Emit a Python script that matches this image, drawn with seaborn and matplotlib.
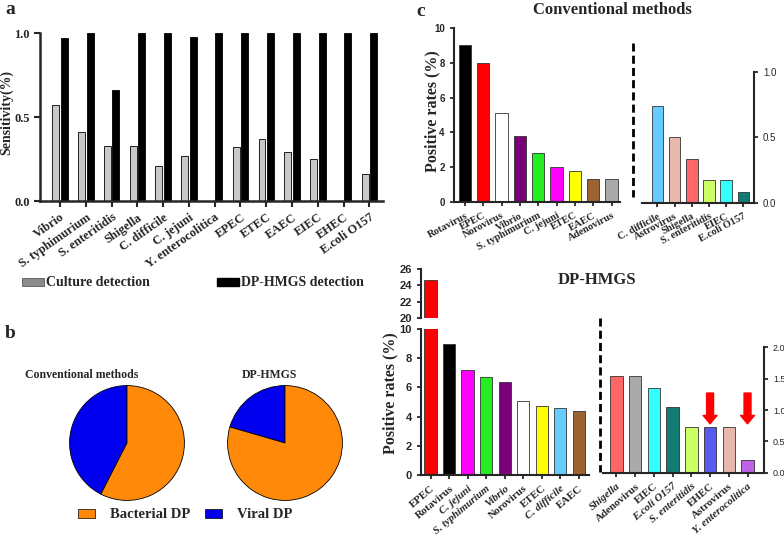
import pandas as pd
import seaborn as sns
import matplotlib.pyplot as plt
from matplotlib.patches import Patch
from matplotlib.lines import Line2D

# (a) sensitivity of culture vs DP-HMGS
pathogens_a = ["Vibrio", "S. typhimurium", "S. enteritidis", "Shigella", "C. difficile",
               "C. jejuni", "Y. enterocolitica", "EPEC", "ETEC", "EAEC", "EIEC", "EHEC",
               "E.coli O157"]
culture_sens = [0.57, 0.41, 0.33, 0.33, 0.21, 0.27, 0.0, 0.32, 0.37, 0.29, 0.25, 0.0, 0.16]
hmgs_sens = [0.97, 1.0, 0.66, 1.0, 1.0, 0.975, 1.0, 1.0, 1.0, 1.0, 1.0, 1.0, 1.0]

# (b) share of bacterial / viral DP
pie_labels = ["Viral DP", "Bacterial DP"]
conv_share = [42.5, 57.5]
hmgs_share = [20.5, 79.5]

# (c) positive rates (%)
conv_main = ["Rotavirus", "EPEC", "Norovirus", "Vibrio", "S. typhimurium", "C. jejuni",
             "ETEC", "EAEC", "Adenovirus"]
conv_main_rate = [9.0, 8.0, 5.1, 3.8, 2.8, 2.0, 1.8, 1.3, 1.3]
conv_low = ["C. difficile", "Astrovirus", "Shigella", "S. enteritidis", "EIEC", "E.coli O157"]
conv_low_rate = [0.74, 0.5, 0.33, 0.17, 0.17, 0.085]

hmgs_main = ["EPEC", "Rotavirus", "C. jejuni", "S. typhimurium", "Vibrio", "Norovirus",
             "ETEC", "C. difficile", "EAEC"]
hmgs_main_rate = [24.6, 9.0, 7.2, 6.7, 6.4, 5.1, 4.7, 4.6, 4.4]
hmgs_low = ["Shigella", "Adenovirus", "EIEC", "E.coli O157", "S. enteritidis", "EHEC",
            "Astrovirus", "Y. enterocolitica"]
hmgs_low_rate = [1.55, 1.55, 1.35, 1.04, 0.73, 0.73, 0.73, 0.21]

colors = {"Rotavirus": "#000000", "EPEC": "#FF0000", "Norovirus": "#FFFFFF",
          "Vibrio": "#7A007A", "S. typhimurium": "#22EE22", "C. jejuni": "#FF00FF",
          "ETEC": "#FFFF00", "EAEC": "#9C6232", "Adenovirus": "#AAAAAA",
          "C. difficile": "#66CCFF", "Astrovirus": "#E8B8AC", "Shigella": "#FF6666",
          "S. enteritidis": "#CCFF66", "EIEC": "#33FFFF", "E.coli O157": "#127B72",
          "EHEC": "#5A5AF0", "Y. enterocolitica": "#C060E8"}
italic_names = {"Vibrio", "S. typhimurium", "S. enteritidis", "Shigella", "C. difficile",
                "C. jejuni", "Y. enterocolitica", "E.coli O157"}

orange = "#FF8A0A"
blue = "#0000EE"

sns.set_style("ticks")
plt.rcParams["font.family"] = ["Liberation Serif", "DejaVu Serif"]
plt.rcParams["font.weight"] = "bold"
plt.rcParams["axes.linewidth"] = 1.5

W, H = 784, 539
fig = plt.figure(figsize=(W / 100, H / 100), dpi=100)


def box(x0, y0, x1, y1):
    return [x0 / W, 1 - y1 / H, (x1 - x0) / W, (y1 - y0) / H]


def fx(x):
    return x / W


def fy(y):
    return 1 - y / H


def bar_panel(ax, names, rates):
    df = pd.DataFrame({"name": names, "rate": rates})
    sns.barplot(data=df, x="name", y="rate", hue="name",
                palette=[colors[n] for n in names], legend=False, width=0.67,
                saturation=1, edgecolor="#333333", linewidth=0.6, ax=ax)
    ax.set_xlabel("")
    ax.set_ylabel("")


def sans_ticks(ax, size, weight="bold"):
    for lbl in ax.get_yticklabels():
        lbl.set_fontfamily("Liberation Sans")
        lbl.set_fontsize(size)
        lbl.set_fontweight(weight)


# ---- panel a ----
ax_a = fig.add_axes(box(40, 33, 383, 201))
df_a = pd.DataFrame({"pathogen": pathogens_a * 2,
                     "sens": culture_sens + hmgs_sens,
                     "method": ["Culture detection"] * len(pathogens_a)
                     + ["DP-HMGS detection"] * len(pathogens_a)})
sns.barplot(data=df_a, x="pathogen", y="sens", hue="method",
            palette=["#C8C8C8", "#000000"], width=0.66, gap=0.18, saturation=1,
            edgecolor="black", linewidth=0.6, legend=False, ax=ax_a)
ax_a.set_xlim(-0.78, 12.53)
ax_a.set_ylim(0, 1)
ax_a.set_yticks([0, 0.5, 1.0], ["0.0", "0.5", "1.0"])
ax_a.set_xlabel("")
ax_a.set_ylabel("")
sns.despine(ax=ax_a)
for s in ["left", "bottom"]:
    ax_a.spines[s].set_linewidth(1.8)
ax_a.tick_params(width=1.5, length=4, labelsize=9)
plt.setp(ax_a.get_xticklabels(), rotation=35, ha="right", rotation_mode="anchor")
fig.text(fx(7), fy(112), "Sensitivity(%)", rotation=90, fontsize=10,
         ha="center", va="center")

fig.legend(handles=[Patch(fc="#8C8C8C", ec="#555555", lw=0.6, label="Culture detection"),
                    Patch(fc="black", ec="black", label="DP-HMGS detection")],
           loc="center", bbox_to_anchor=(fx(193), fy(283)), ncol=2, frameon=False,
           fontsize=10, handlelength=1.6, handleheight=0.5, handletextpad=0.15,
           columnspacing=4.8, borderpad=0, borderaxespad=0)

# ---- panel b ----
for cx, share, title, tx in [(127, conv_share, "Conventional methods", 25),
                             (285, hmgs_share, "DP-HMGS", 242)]:
    axp = fig.add_axes(box(cx - 58, 443 - 58, cx + 58, 443 + 58))
    axp.pie(share, colors=[blue, orange], startangle=90, counterclock=True,
            wedgeprops=dict(edgecolor="black", linewidth=0.6))
    axp.set_xlim(-1.01, 1.01)
    axp.set_ylim(-1.01, 1.01)
    fig.text(fx(tx), fy(375), title, fontsize=8.5, ha="left", va="center")

fig.legend(handles=[Patch(fc=orange, ec="black", lw=0.5, label="Bacterial DP"),
                    Patch(fc=blue, ec="black", lw=0.5, label="Viral DP")],
           loc="center", bbox_to_anchor=(fx(185), fy(515)), ncol=2, frameon=False,
           fontsize=10.5, handlelength=1.2, handleheight=0.6, handletextpad=1.0,
           columnspacing=1.0, borderpad=0, borderaxespad=0)

# ---- panel c, conventional ----
ax_c1 = fig.add_axes(box(453.7, 28, 620.3, 202))
bar_panel(ax_c1, conv_main, conv_main_rate)
ax_c1.set_xlim(-0.61, 8.48)
ax_c1.set_ylim(0, 10)
ax_c1.set_yticks(range(0, 11, 2))
sns.despine(ax=ax_c1)
ax_c1.tick_params(width=1.3, length=3, labelsize=7.5)
sans_ticks(ax_c1, 7)
plt.setp(ax_c1.get_xticklabels(), rotation=28, ha="right", rotation_mode="anchor")

ax_c2 = fig.add_axes(box(641.7, 71.7, 754, 202.7))
bar_panel(ax_c2, conv_low, conv_low_rate)
ax_c2.set_xlim(-0.92, 5.62)
ax_c2.set_ylim(0, 1)
ax_c2.set_yticks([0, 0.5, 1.0], ["0.0", "0.5", "1.0"])
ax_c2.yaxis.tick_right()
ax_c2.spines["left"].set_visible(False)
ax_c2.spines["top"].set_visible(False)
ax_c2.tick_params(width=1.3, length=3, labelsize=7.5)
sans_ticks(ax_c2, 7, "normal")
plt.setp(ax_c2.get_xticklabels(), rotation=28, ha="right", rotation_mode="anchor")

fig.text(fx(612), fy(10), "Conventional methods", fontsize=12, ha="center", va="center")
fig.text(fx(432), fy(111), "Positive rates (%)", rotation=90, fontsize=11.5,
         ha="center", va="center")
fig.add_artist(Line2D([fx(633), fx(633)], [fy(43), fy(197)], color="black", lw=2,
                      linestyle=(0, (2.9, 1.5)), transform=fig.transFigure))

# ---- panel c, DP-HMGS (broken axis) ----
ax_dt = fig.add_axes(box(421, 269, 589, 318))
bar_panel(ax_dt, hmgs_main, hmgs_main_rate)
ax_dt.set_xlim(-0.52, 8.55)
ax_dt.set_ylim(20, 26)
ax_dt.set_yticks(range(20, 27, 2))
ax_dt.set_xticks([])
for s in ["top", "right", "bottom"]:
    ax_dt.spines[s].set_visible(False)
ax_dt.tick_params(width=1.3, length=3)
sans_ticks(ax_dt, 8)

ax_d = fig.add_axes(box(421, 329, 589, 475))
bar_panel(ax_d, hmgs_main, hmgs_main_rate)
ax_d.set_xlim(-0.52, 8.55)
ax_d.set_ylim(0, 10)
ax_d.set_yticks(range(0, 11, 2))
sns.despine(ax=ax_d)
ax_d.tick_params(width=1.3, length=3, labelsize=7.8)
sans_ticks(ax_d, 8)
plt.setp(ax_d.get_xticklabels(), rotation=40, ha="right", rotation_mode="anchor")

ax_d2 = fig.add_axes(box(603, 347.3, 764, 472.7))
bar_panel(ax_d2, hmgs_low, hmgs_low_rate)
ax_d2.set_xlim(-0.72, 7.88)
ax_d2.set_ylim(0, 2)
ax_d2.set_yticks([0, 0.5, 1.0, 1.5, 2.0], ["0.0", "0.5", "1.0", "1.5", "2.0"])
ax_d2.yaxis.tick_right()
ax_d2.spines["left"].set_visible(False)
ax_d2.spines["top"].set_visible(False)
ax_d2.tick_params(width=1.3, length=3, labelsize=7.8)
sans_ticks(ax_d2, 6.5, "normal")
plt.setp(ax_d2.get_xticklabels(), rotation=40, ha="right", rotation_mode="anchor")

for ax in (ax_d, ax_d2):
    for lbl in ax.get_xticklabels():
        if lbl.get_text() in italic_names:
            lbl.set_fontstyle("italic")

for name in ["EHEC", "Y. enterocolitica"]:
    i = hmgs_low.index(name)
    ax_d2.annotate("", xy=(i, 0.78), xytext=(i, 1.27),
                   arrowprops=dict(arrowstyle="simple,head_length=0.6,head_width=1.0,tail_width=0.5",
                                   color="red", mutation_scale=10, shrinkA=0, shrinkB=0))

fig.text(fx(597), fy(280), "DP-HMGS", fontsize=12, ha="center", va="center")
fig.text(fx(390), fy(393), "Positive rates (%)", rotation=90, fontsize=11.5,
         ha="center", va="center")
fig.add_artist(Line2D([fx(600), fx(600)], [fy(318), fy(472)], color="black", lw=2,
                      linestyle=(0, (2.9, 1.5)), transform=fig.transFigure))

# panel letters
fig.text(fx(5), fy(10), "a", fontsize=14, ha="left", va="center")
fig.text(fx(5), fy(333), "b", fontsize=14, ha="left", va="center")
fig.text(fx(416), fy(12), "c", fontsize=14, ha="left", va="center")

fig.savefig("out.png", dpi=100)
